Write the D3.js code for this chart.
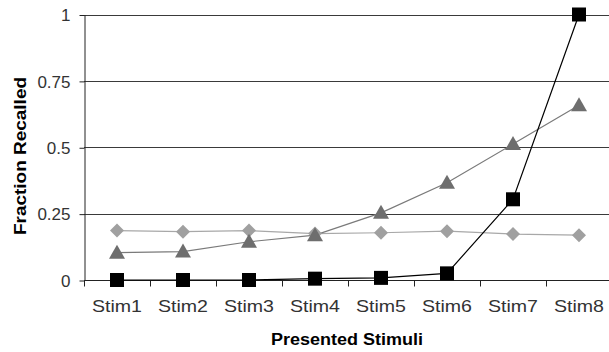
<!DOCTYPE html>
<html><head><meta charset="utf-8">
<script src="https://cdn.jsdelivr.net/npm/d3@7"></script>
<style>body{margin:0;background:#fff;} svg{display:block;}</style>
</head><body>
<svg id="c" width="609" height="352"></svg>
<script>
const categories = ["Stim1","Stim2","Stim3","Stim4","Stim5","Stim6","Stim7","Stim8"];
const diamondValues = [0.186, 0.182, 0.186, 0.175, 0.178, 0.184, 0.173, 0.169];
const triangleValues = [0.103, 0.107, 0.144, 0.169, 0.253, 0.366, 0.512, 0.658];
const squareValues = [0, 0, 0, 0.005, 0.008, 0.025, 0.304, 1.0];
const yTicks = [0, 0.25, 0.5, 0.75, 1];
const yTickLabels = ["0", "0.25", "0.5", "0.75", "1"];

const svg = d3.select("#c");
const W = 609, H = 352;
const m = {left: 84, right: -3, top: 14.5, bottom: 72};
const x = d3.scaleBand().domain(categories).range([m.left, W - m.right]).padding(0);
const y = d3.scaleLinear().domain([0, 1]).range([H - m.bottom, m.top]);
const cx = d => x(d) + x.bandwidth() / 2;
const font = "'Liberation Sans', Arial, sans-serif";

// gridlines
svg.append("g").selectAll("line").data(yTicks.filter(t => t > 0)).join("line")
  .attr("x1", m.left).attr("x2", W).attr("y1", d => Math.round(y(d)) + 0.5).attr("y2", d => Math.round(y(d)) + 0.5)
  .attr("stroke", "#3a3a3a").attr("stroke-width", 1);

// y axis
const yAxis = svg.append("g").attr("transform", `translate(${m.left + 0.5},0)`)
  .call(d3.axisLeft(y).tickValues(yTicks).tickFormat((d, i) => yTickLabels[i]).tickSize(5).tickSizeOuter(0));
yAxis.selectAll(".tick line").attr("stroke", "#222").attr("transform", "translate(0,0.5)");
yAxis.select(".domain").attr("stroke", "#222");
yAxis.selectAll(".tick text").attr("font-family", font).attr("font-size", 17).attr("fill", "#333")
  .attr("text-anchor", "end").attr("x", -14).attr("dy", "0.36em");

// x axis
const xAxis = svg.append("g").attr("transform", `translate(0,${Math.round(y(0)) + 0.5})`)
  .call(d3.axisBottom(x).tickSize(0).tickPadding(19).tickSizeOuter(0));
xAxis.select(".domain").attr("stroke", "#222").attr("d", `M${m.left},0H${W}`);
xAxis.selectAll(".tick text").attr("font-family", font).attr("font-size", 17).attr("fill", "#333")
  .attr("textLength", 50).attr("lengthAdjust", "spacingAndGlyphs");
// tick marks at band boundaries
const bounds = categories.map(c => x(c)).concat([x(categories[categories.length - 1]) + x.bandwidth()]);
xAxis.append("g").selectAll("line").data(bounds).join("line")
  .attr("x1", d => Math.round(d) + 0.5).attr("x2", d => Math.round(d) + 0.5).attr("y1", 0).attr("y2", 6)
  .attr("stroke", "#222");

// series lines
const line = vals => d3.line().x((d, i) => cx(categories[i])).y(d => y(d))(vals);
svg.append("path").attr("d", line(diamondValues)).attr("fill", "none").attr("stroke", "#a8a8a8").attr("stroke-width", 1.2);
svg.append("path").attr("d", line(triangleValues)).attr("fill", "none").attr("stroke", "#7a7a7a").attr("stroke-width", 1.2);
svg.append("path").attr("d", line(squareValues)).attr("fill", "none").attr("stroke", "#000").attr("stroke-width", 1.2);

// markers
svg.append("g").selectAll("path").data(diamondValues).join("path")
  .attr("d", "M0,-7L7,0L0,7L-7,0Z")
  .attr("transform", (d, i) => `translate(${cx(categories[i])},${y(d)})`).attr("fill", "#a0a0a0");
svg.append("g").selectAll("path").data(triangleValues).join("path")
  .attr("d", "M0,-8L8,6L-8,6Z")
  .attr("transform", (d, i) => `translate(${cx(categories[i])},${y(d)})`).attr("fill", "#6e6e6e");
svg.append("g").selectAll("rect").data(squareValues).join("rect")
  .attr("x", (d, i) => cx(categories[i]) - 7).attr("y", d => y(d) - 7).attr("width", 14).attr("height", 14)
  .attr("fill", "#000");

// axis titles
svg.append("text").attr("x", 347).attr("y", 345).attr("text-anchor", "middle")
  .attr("font-family", font).attr("font-size", 16).attr("font-weight", "bold").attr("fill", "#000")
  .attr("textLength", 152).attr("lengthAdjust", "spacingAndGlyphs").text("Presented Stimuli");
svg.append("text").attr("transform", "translate(26,156) rotate(-90)").attr("text-anchor", "middle")
  .attr("font-family", font).attr("font-size", 16).attr("font-weight", "bold").attr("fill", "#000")
  .attr("textLength", 158).attr("lengthAdjust", "spacingAndGlyphs").text("Fraction Recalled");
</script>
</body></html>
